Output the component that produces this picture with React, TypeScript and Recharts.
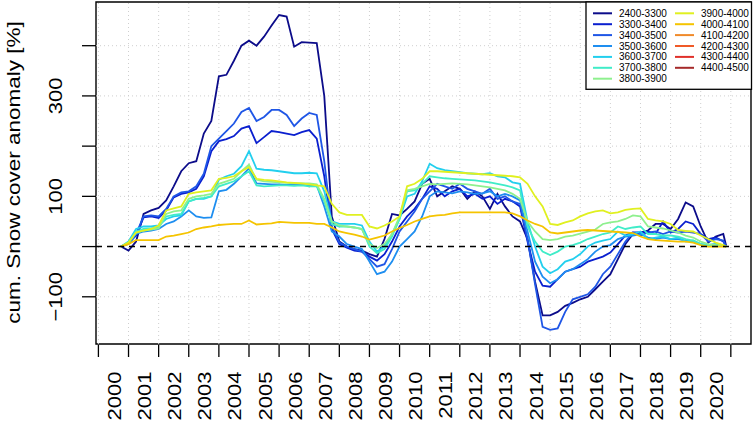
import { LineChart, Line, XAxis, YAxis, ReferenceLine, ReferenceArea } from 'recharts';

// ─── Data ─────────────────────────────────────────────────────────────────────

const TIMES = [
  2000.75, 2001, 2001.25, 2001.5, 2001.75, 2002, 2002.25, 2002.5, 2002.75, 2003,
  2003.25, 2003.5, 2003.75, 2004, 2004.25, 2004.5, 2004.75, 2005, 2005.25, 2005.5,
  2005.75, 2006, 2006.25, 2006.5, 2006.75, 2007, 2007.25, 2007.5, 2007.75, 2008,
  2008.25, 2008.5, 2008.75, 2009, 2009.25, 2009.5, 2009.75, 2010, 2010.25, 2010.5,
  2010.75, 2011, 2011.25, 2011.5, 2011.75, 2012, 2012.25, 2012.5, 2012.75, 2013,
  2013.25, 2013.5, 2013.75, 2014, 2014.25, 2014.5, 2014.75, 2015, 2015.25, 2015.5,
  2015.75, 2016, 2016.25, 2016.5, 2016.75, 2017, 2017.25, 2017.5, 2017.75, 2018,
  2018.25, 2018.5, 2018.75, 2019, 2019.25, 2019.5, 2019.75, 2020, 2020.25, 2020.5,
  2020.75, 2020.85,
];

const B2400 = [
  0, -8, 10, 65, 72, 77, 92, 120, 150, 166,
  170, 225, 250, 339, 342, 370, 400, 410, 400, 418,
  440, 461, 458, 398, 407, 406, 405, 300, 60, 10,
  0, -5, -8, -15, -20, 15, 65, 62, 75, 90,
  125, 135, 100, 110, 120, 115, 95, 110, 100, 75,
  105, 80, 60, 50, 15, -70, -137, -137, -130, -118,
  -112, -105, -100, -85, -70, -55, -25, 5, 25, 28,
  32, 45, 45, 35, 55, 88, 80, 40, 8, 20,
  25, 0,
];

const B3300 = [
  0, 6, 22, 58, 60, 57, 72, 98, 105, 108,
  115, 140, 190, 210, 214, 220, 235, 240, 206, 218,
  230, 228, 225, 222, 228, 232, 215, 140, 35, 5,
  -2, -8, -10, -20, -28, -15, 10, 40, 60, 75,
  95, 120, 115, 100, 110, 115, 100, 105, 95, 100,
  85, 95, 90, 80, 10, -50, -78, -80, -65, -50,
  -45, -40, -30, -25, -20, -12, 5, 22, 28, 28,
  30, 25, 50, 28, 35, 50, 45, 25, 15, 18,
  10, 0,
];

const B3400 = [
  0, 8, 25, 60, 62, 60, 75, 100, 108, 110,
  120, 145, 200, 215, 230, 245, 268, 276, 250, 258,
  272, 272, 262, 240, 255, 266, 262, 170, 40, 8,
  0, -5, -10, -25, -40, -35, -5, 30, 50, 70,
  95, 110, 125, 120, 115, 125, 115, 110, 105, 115,
  95, 100, 90, 85, 15, -75, -160, -166, -163, -130,
  -105, -100, -95, -80, -55, -40, -15, 10, 28, 22,
  28, 30, 25, 30, 28, 30, 28, 25, 10, 15,
  12, 0,
];

const B3500 = [
  0, 5, 25, 30, 32, 35, 45, 50, 60, 72,
  60, 57, 58, 110, 113, 125, 140, 156, 126, 125,
  124, 124, 123, 123, 123, 122, 122, 80, 30, 20,
  5, 0, -5, -30, -55, -50, -30, 0, 15, 30,
  60, 100, 110, 108, 106, 110, 108, 105, 106, 110,
  100, 105, 100, 92, 30, -30, -60, -73, -65, -50,
  -45, -35, -25, -10, 0, 3, 15, 20, 22, 25,
  18, 15, 18, 15, 15, 12, 10, 5, 3, 5,
  3, 0,
];

const B3600 = [
  0, 10, 35, 40, 40, 42, 55, 60, 62, 90,
  95, 95, 100, 133, 140, 145, 160, 190, 155, 153,
  152, 150, 148, 146, 146, 147, 146, 110, 50, 45,
  45, 45, 42, 10, -10, 0, 25, 55, 100, 105,
  130, 165, 156, 152, 150, 148, 146, 145, 144, 146,
  140, 138, 128, 125, 50, 0, -40, -53, -45, -30,
  -25, -15, 0, 8, 12, 15, 30, 22, 25, 30,
  15, 18, 20, 15, 18, 10, 12, 5, 3, 5,
  3, 0,
];

const B3700 = [
  0, 8, 30, 35, 36, 38, 60, 63, 65, 90,
  95, 97, 100, 120, 125, 130, 140, 150, 122, 120,
  121, 122, 122, 121, 122, 120, 120, 90, 45, 40,
  40, 38, 35, 0, -13, -5, 20, 55, 110, 112,
  125, 140, 138, 136, 135, 134, 133, 132, 130, 128,
  125, 122, 118, 112, 40, 10, -10, -17, -10, 0,
  3, 8, 15, 20, 25, 28, 40, 35, 38, 40,
  25, 25, 22, 22, 20, 15, 12, 5, 3, 3,
  2, 0,
];

const B3800 = [
  0, 8, 28, 32, 34, 36, 65, 70, 72, 95,
  100, 102, 105, 125, 130, 135, 150, 163, 133, 130,
  129, 128, 127, 126, 126, 126, 124, 95, 50, 42,
  40, 38, 35, 5, -3, 5, 25, 60, 112, 115,
  120, 125, 124, 125, 126, 125, 124, 122, 120, 118,
  115, 112, 105, 95, 50, 30, 15, 13, 15, 20,
  22, 26, 30, 34, 45, 48, 50, 55, 62, 60,
  40, 38, 36, 32, 28, 22, 18, 10, 5, 3,
  2, 0,
];

const B3900 = [
  0, 8, 28, 32, 35, 42, 72, 76, 80, 105,
  108, 110, 112, 135, 137, 140, 150, 158, 135, 133,
  132, 130, 128, 127, 126, 124, 122, 120, 85, 68,
  63, 63, 63, 40, 36, 42, 50, 60, 120, 125,
  135, 150, 150, 149, 148, 147, 146, 145, 144, 143,
  142, 141, 140, 138, 125, 100, 80, 45, 43, 48,
  52, 60, 66, 70, 72, 66, 68, 73, 75, 76,
  55, 52, 50, 45, 33, 31, 30, 22, 15, 8,
  3, 0,
];

const B4000 = [
  0, 5, 13, 13, 13, 13, 20, 22, 25, 28,
  35, 38, 40, 43, 44, 45, 45, 52, 44, 45,
  46, 49, 48, 47, 47, 47, 45, 45, 38, 30,
  27, 24, 20, 14, 18, 22, 30, 37, 43, 50,
  55, 60, 62, 63, 66, 68, 68, 68, 68, 68,
  68, 68, 66, 60, 52, 45, 40, 28, 26, 28,
  30, 32, 33, 32, 31, 30, 29, 28, 27, 20,
  15, 13, 12, 11, 10, 10, 8, 3, 0, 0,
  0, 0,
];

// bands above 4100 m carry no values in the figure, only legend entries
const BANDS = [
  '2400-3300', '3300-3400', '3400-3500', '3500-3600', '3600-3700', '3700-3800', '3800-3900',
  '3900-4000', '4000-4100', '4100-4200', '4200-4300', '4300-4400', '4400-4500',
];
const SERIES: number[][] = [B2400, B3300, B3400, B3500, B3600, B3700, B3800, B3900, B4000, [], [], [], []];
const COLORS = [
  '#0c0c8a', '#0a1fcf', '#1f56e6', '#1e8ef0', '#22cfee', '#40ecc8', '#8ef08e',
  '#e0f020', '#f5c400', '#f08a2a', '#f05a28', '#e0302a', '#a52a2a',
];

const YEARS = [
  2000, 2001, 2002, 2003, 2004, 2005, 2006, 2007, 2008, 2009, 2010,
  2011, 2012, 2013, 2014, 2015, 2016, 2017, 2018, 2019, 2020, 2021,
];
const Y_TICKS = [-100, 0, 100, 200, 300, 400];
const Y_LABELED = [-100, 100, 300];

// ─── Layout ───────────────────────────────────────────────────────────────────

const W = 754;
const H = 424;
const PLOT_LEFT = 96;
const PLOT_BOTTOM = 344;
const X_DOMAIN: [number, number] = [1999.92, 2021.67];
const Y_DOMAIN: [number, number] = [-194, 487];
const FONT = '"Liberation Sans", Arial, Helvetica, sans-serif';

const chartData = TIMES.map((t, i) => {
  const row: Record<string, number | null> = { t };
  BANDS.forEach((b, k) => {
    row[b] = SERIES[k].length ? SERIES[k][i] : null;
  });
  return row;
});

// labels sit between the year ticks
const X_TICKS = [...YEARS, ...YEARS.slice(0, -1).map((y) => y + 0.5)];

// ─── Ticks ────────────────────────────────────────────────────────────────────

function YearTick({ x, payload }: any) {
  const v = payload.value as number;
  if (Number.isInteger(v)) {
    return <line x1={x} x2={x} y1={PLOT_BOTTOM + 1} y2={PLOT_BOTTOM + 13} stroke="#000" strokeWidth={1.3} />;
  }
  return (
    <text
      transform={`translate(${x + 7.5},371.5) scale(0.85,1) rotate(-90)`}
      textAnchor="end"
      fontSize={22}
      fontFamily={FONT}
      fill="#000"
    >
      {Math.floor(v)}
    </text>
  );
}

function ValueTick({ y, payload }: any) {
  const v = payload.value as number;
  return (
    <g>
      <line x1={PLOT_LEFT - 14} x2={PLOT_LEFT} y1={y} y2={y} stroke="#000" strokeWidth={1.3} />
      {Y_LABELED.includes(v) && (
        <text
          transform={`translate(61.7,${y}) scale(0.85,1) rotate(-90)`}
          textAnchor="middle"
          fontSize={22}
          fontFamily={FONT}
          fill="#000"
        >
          {v < 0 ? `\u2212${Math.abs(v)}` : String(v)}
        </text>
      )}
    </g>
  );
}

// ─── Legend + axis title overlay ──────────────────────────────────────────────

function Overlay() {
  const rowY = (k: number) => 13.3 + 10.9 * k;
  return (
    <svg width={W} height={H} style={{ position: 'absolute', left: 0, top: 0, pointerEvents: 'none' }}>
      <text
        transform="translate(20,172.5) scale(0.8,1) rotate(-90)"
        textAnchor="middle"
        fontSize={22.5}
        fontFamily={FONT}
        fill="#000"
      >
        cum. Snow cover anomaly [%]
      </text>
      <rect x={586} y={2} width={165.5} height={87.3} fill="#fff" stroke="#000" strokeWidth={1.3} />
      {BANDS.map((b, k) => {
        const col = k < 7 ? 0 : 1;
        const row = k < 7 ? k : k - 7;
        const lx = col === 0 ? 593 : 675;
        return (
          <g key={b}>
            <line x1={lx} x2={lx + 19} y1={rowY(row)} y2={rowY(row)} stroke={COLORS[k]} strokeWidth={2} />
            <text x={lx + 26} y={rowY(row) + 3.5} fontSize={10} fontFamily={FONT} fill="#000">
              {b}
            </text>
          </g>
        );
      })}
    </svg>
  );
}

// ─── Component ────────────────────────────────────────────────────────────────

export default function App() {
  return (
    <div style={{ position: 'absolute', left: 0, top: 0, width: W, height: H, background: '#fff' }}>
      <LineChart width={W} height={H} data={chartData} margin={{ top: 2, right: 3, bottom: 0, left: 0 }}>
        <XAxis
          dataKey="t"
          type="number"
          domain={X_DOMAIN}
          allowDataOverflow
          ticks={X_TICKS}
          interval={0}
          tick={<YearTick />}
          tickLine={false}
          axisLine={false}
          height={80}
        />
        <YAxis
          type="number"
          domain={Y_DOMAIN}
          allowDataOverflow
          ticks={Y_TICKS}
          interval={0}
          tick={<ValueTick />}
          tickLine={false}
          axisLine={false}
          width={96}
        />
        {YEARS.map((y) => (
          <ReferenceLine key={`gx${y}`} x={y} stroke="#cfcfcf" strokeDasharray="1 3" ifOverflow="visible" />
        ))}
        {Y_TICKS.filter((v) => v !== 0).map((v) => (
          <ReferenceLine key={`gy${v}`} y={v} stroke="#cfcfcf" strokeDasharray="1 3" />
        ))}
        {BANDS.map((b, k) =>
          SERIES[k].length ? (
            <Line
              key={b}
              dataKey={b}
              type="linear"
              stroke={COLORS[k]}
              strokeWidth={1.8}
              dot={false}
              activeDot={false}
              isAnimationActive={false}
            />
          ) : null,
        )}
        <ReferenceLine y={0} stroke="#000" strokeWidth={1.5} strokeDasharray="6 5" />
        <ReferenceArea
          x1={X_DOMAIN[0]}
          x2={X_DOMAIN[1]}
          y1={Y_DOMAIN[0]}
          y2={Y_DOMAIN[1]}
          fill="none"
          fillOpacity={0}
          stroke="#000"
          strokeWidth={1.4}
          ifOverflow="visible"
        />
      </LineChart>
      <Overlay />
    </div>
  );
}
